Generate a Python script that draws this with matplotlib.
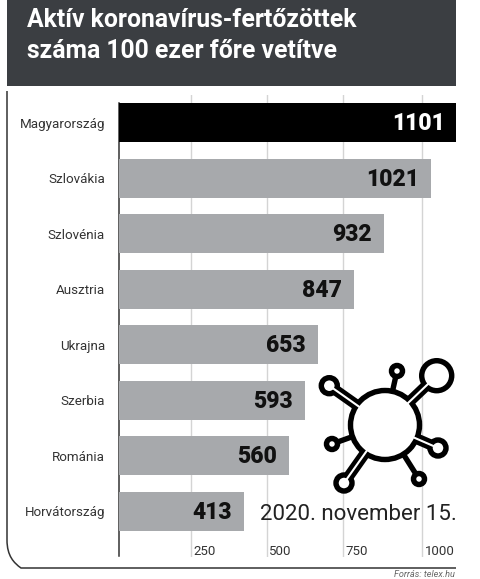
"""Active coronavirus cases per 100k, horizontal bars with a virus icon."""
import numpy as np
import matplotlib.pyplot as plt
from matplotlib.patches import Circle, PathPatch, Rectangle
from matplotlib.path import Path

plt.rcParams["font.family"] = ["Roboto", "DejaVu Sans"]

countries = ["Magyarország", "Szlovákia", "Szlovénia", "Ausztria",
             "Ukrajna", "Szerbia", "Románia", "Horvátország"]
values = [1101, 1021, 932, 847, 653, 593, 560, 413]
# the drawn bars do not follow the printed values exactly, so read them separately
bar_lengths = [1107, 1025, 870, 772, 653, 611, 558, 410]
tick_pos = [237, 486, 737, 995]
tick_labels = ["250", "500", "750", "1000"]

DARK, GREY, GRID = "#3b3e42", "#a7a9ac", "#d4d4d4"
W, H = 480, 579

fig = plt.figure(figsize=(W / 100, H / 100), dpi=100, facecolor="white")

# overlay in pixel coordinates for the frame, title box and icon
bg = fig.add_axes([0, 0, 1, 1], zorder=1)
bg.set_xlim(0, W)
bg.set_ylim(H, 0)
bg.axis("off")

bg.add_patch(Rectangle((7, 0), 449, 86, color=DARK, lw=0))
bg.text(27, 27, "Aktív koronavírus-fertőzöttek", color="white", fontsize=17.8,
        fontweight="bold", va="baseline")
bg.text(27, 58, "száma 100 ezer főre vetítve", color="white", fontsize=17.8,
        fontweight="bold", va="baseline")

frame = Path([(7, 91), (7, 540), (7, 556), (14, 563), (21, 568), (32, 568), (456, 568)],
             [Path.MOVETO, Path.LINETO, Path.CURVE4, Path.CURVE4, Path.CURVE4,
              Path.LINETO, Path.LINETO])
bg.add_patch(PathPatch(frame, fc="none", ec="#333333", lw=1.1))
bg.text(455, 574.6, "Forrás: telex.hu", fontsize=6.6, style="italic",
        color="#666666", ha="right", va="center")

# bars
ax = fig.add_axes([119 / W, 1 - 557 / H, (456 - 119) / W, (557 - 95) / H], zorder=2)
ax.patch.set_alpha(0)
ax.set_xlim(0, (456 - 119) / 0.3045)
ax.set_ylim(7.82, -0.495)
for s in ("top", "right", "bottom"):
    ax.spines[s].set_visible(False)
ax.spines["left"].set_color("#333333")
ax.spines["left"].set_linewidth(1.1)
ax.spines["left"].set_bounds(-0.35, 7.8)

colors = ["black"] + [GREY] * (len(values) - 1)
ax.barh(range(len(values)), bar_lengths, height=0.7, color=colors, zorder=3)
ax.set_yticks(range(len(values)))
ax.set_yticklabels(countries, fontsize=9.6, color="#333333")
ax.tick_params(axis="y", length=0, pad=10)
ax.set_xticks(tick_pos)
ax.set_xticklabels([])
ax.tick_params(axis="x", length=0)
ax.grid(axis="x", color=GRID, lw=1, zorder=1)
ax.grid(axis="y", visible=False)

for i, (v, b) in enumerate(zip(values, bar_lengths)):
    ax.text(min(b, 1079) - 40 if i else 1070, i + 0.02, str(v), fontsize=16.5,
            fontweight="black", color="white" if i == 0 else "#111111",
            ha="right", va="center", zorder=4)
for p, lab in zip(tick_pos, tick_labels):
    ax.text(p + (11 if lab == "1000" else 6), 7.72, lab, fontsize=9.5, color="#333333",
            ha="left", va="center")
ax.text(1110, 7.05, "2020. november 15.", fontsize=16, color="#222222", ha="right",
        va="center", zorder=4)

# virus icon on top of the grid
icon = fig.add_axes([0, 0, 1, 1], zorder=3)
icon.set_xlim(0, W)
icon.set_ylim(H, 0)
icon.axis("off")
cx, cy = 385, 425
R = 34.5
ICON_LW = 3.9
icon.add_patch(Circle((cx, cy), R, fc="white", ec="black", lw=ICON_LW, zorder=1))
arms = [  # knob x, y, knob radius
    (397, 371, 5.5), (436.7, 375.7, 15), (329.3, 385.7, 8),
    (332, 444, 5.5), (344, 483, 8), (419, 479, 5.5), (438, 448, 8)]
for kx, ky, kr in arms:
    dx, dy = kx - cx, ky - cy
    d = np.hypot(dx, dy)
    ux, uy = dx / d, dy / d
    thick = kr > 7
    icon.plot([cx + ux * (R - 1), kx], [cy + uy * (R - 1), ky], color="black",
              lw=ICON_LW * 2 if thick else ICON_LW, solid_capstyle="butt", zorder=2)
    icon.add_patch(Circle((kx, ky), kr, fc="white", ec="black", lw=ICON_LW, zorder=3))
    if thick:
        icon.plot([cx + ux * (R - 5), kx], [cy + uy * (R - 5), ky], color="white",
                  lw=1.5, solid_capstyle="butt", zorder=4)

fig.savefig("out.png", dpi=100)
